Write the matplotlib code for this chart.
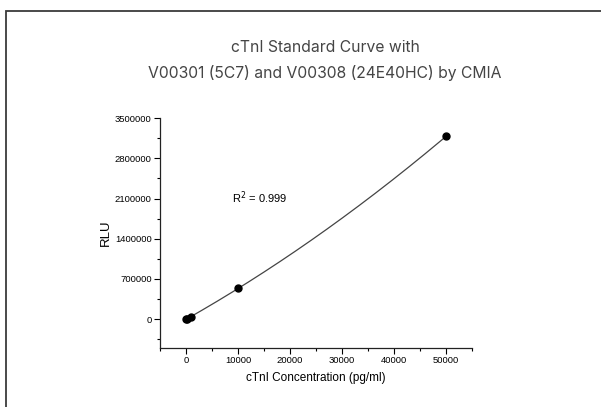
import numpy as np
import matplotlib.pyplot as plt
from matplotlib.patches import Rectangle
from matplotlib.ticker import MultipleLocator, FormatStrFormatter

# standard points (concentration in pg/ml, signal in RLU)
conc = [0, 100, 1000, 10000, 50000]
rlu = [1500, 6000, 40000, 535000, 3180000]
r2_text = "R$^2$ = 0.999"

title_lines = ["cTnI Standard Curve with", "V00301 (5C7) and V00308 (24E40HC) by CMIA"]
x_label = "cTnI Concentration (pg/ml)"
y_label = "RLU"

plt.rcParams["font.family"] = ["Liberation Sans", "DejaVu Sans"]

fig = plt.figure(figsize=(6.01, 4.07), dpi=100)
fig.patch.set_facecolor("white")

# frame line along the top and left of the page
fig.patches.append(Rectangle((6 / 601, -0.1), 1.2, 1 - 11 / 407 + 0.1,
                             transform=fig.transFigure, fill=False,
                             edgecolor="#3a3a3a", linewidth=1.3))

for i, line in enumerate(title_lines):
    fig.text(325 / 601, 1 - (47 + 26 * i) / 407, line, ha="center", va="center",
             fontsize=11.3, color="#454545", fontweight="normal",
             family=["Inter", "DejaVu Sans"])

ax = fig.add_axes([160 / 601, 1 - 348 / 407, 312 / 601, 230 / 407])

# quadratic fit through the standards
coef = np.polyfit(conc, rlu, 2)
xs = np.linspace(min(conc), max(conc), 300)
ax.plot(xs, np.polyval(coef, xs), color="#444444", lw=0.9, zorder=2)
ax.plot(conc, rlu, "o", color="black", markersize=5, zorder=3)

ax.text(8800, 2107000, r2_text, fontsize=8, va="center", ha="left")

ax.set_xlim(-5000, 55000)
ax.set_ylim(-500000, 3500000)
ax.set_xticks(range(0, 50001, 10000))
ax.set_yticks(range(0, 3500001, 700000))
ax.xaxis.set_minor_locator(MultipleLocator(5000))
ax.yaxis.set_minor_locator(MultipleLocator(350000))
ax.yaxis.set_major_formatter(FormatStrFormatter("%d"))
ax.xaxis.set_major_formatter(FormatStrFormatter("%d"))

for s in ["top", "right"]:
    ax.spines[s].set_visible(False)
for s in ["left", "bottom"]:
    ax.spines[s].set_linewidth(0.9)
    ax.spines[s].set_color("#222222")

ax.tick_params(which="major", direction="out", length=4, width=0.8,
               labelsize=6.8, pad=2)
ax.tick_params(which="minor", direction="out", length=2.5, width=0.8)

ax.set_xlabel(x_label, fontsize=8.5, labelpad=5)
ax.set_ylabel(y_label, fontsize=9.5, labelpad=2)

fig.savefig("out.png", dpi=100)
